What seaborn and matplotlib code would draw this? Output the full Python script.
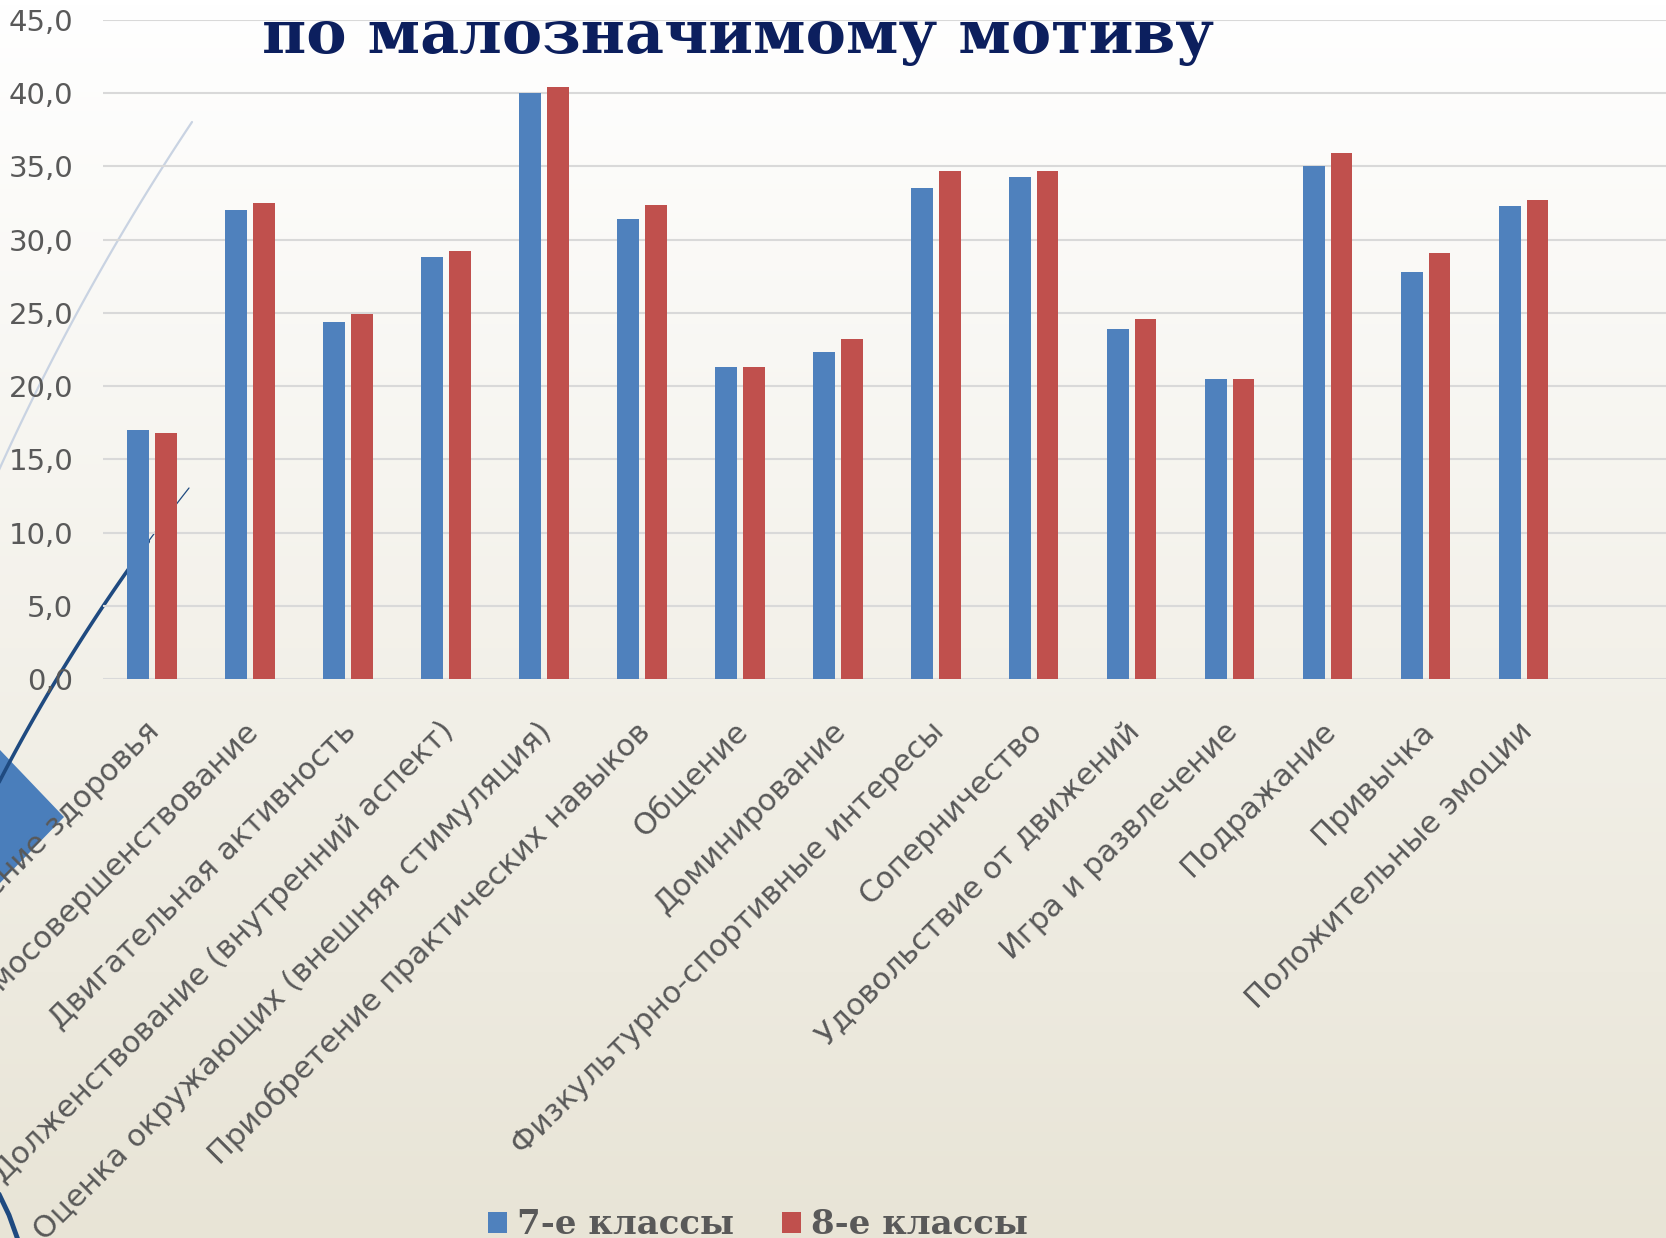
import numpy as np
import pandas as pd
import matplotlib
matplotlib.use('Agg')
import matplotlib.pyplot as plt
import matplotlib.transforms as mtransforms
from matplotlib.patches import Polygon, Rectangle
import seaborn as sns

## data
motives = ['Укрепление здоровья', 'Самосовершенствование', 'Двигательная активность',
           'Долженствование (внутренний аспект)', 'Оценка окружающих (внешняя стимуляция)',
           'Приобретение практических навыков', 'Общение', 'Доминирование',
           'Физкультурно-спортивные интересы', 'Соперничество', 'Удовольствие от движений',
           'Игра и развлечение', 'Подражание', 'Привычка', 'Положительные эмоции']
grade7 = [17.0, 32.0, 24.4, 28.8, 40.0, 31.4, 21.3, 22.3, 33.5, 34.3, 23.9, 20.5, 35.0, 27.8, 32.3]
grade8 = [16.8, 32.5, 24.9, 29.2, 40.4, 32.4, 21.3, 23.2, 34.7, 34.7, 24.6, 20.5, 35.9, 29.1, 32.7]
series_names = ['7-е классы', '8-е классы']
yticks = [0, 5, 10, 15, 20, 25, 30, 35, 40, 45]

df = pd.DataFrame({
    'motive': motives * 2,
    'value': grade7 + grade8,
    'grade': [series_names[0]] * len(motives) + [series_names[1]] * len(motives),
})

sns.set_theme(style='white')
plt.rcParams['font.family'] = ['DejaVu Sans']

W, H = 1666, 1238
fig = plt.figure(figsize=(W / 100, H / 100), dpi=100)

## slide background + decorations (pixel coords)
bg = fig.add_axes([0, 0, 1, 1], zorder=0)
top = np.array([1.0, 1.0, 1.0])
bottom = np.array([0.91, 0.895, 0.84])
t = np.linspace(0, 1, 256)[:, None]
grad = (top * (1 - t) + bottom * t)[:, None, :]
bg.imshow(grad, aspect='auto', extent=[0, W, H, 0])
bg.set_xlim(0, W)
bg.set_ylim(H, 0)
bg.axis('off')


def bezier(p0, c, p2, n=60):
    s = np.linspace(0, 1, n)[:, None]
    return (1 - s) ** 2 * np.array(p0) + 2 * (1 - s) * s * np.array(c) + s ** 2 * np.array(p2)


light = bezier((192, 122), (76, 296), (-10, 490))
bg.plot(light[:, 0], light[:, 1], color='#c9d3e2', lw=1.6)
dark = bezier((189, 488), (77, 630), (-5, 790))
bg.plot(dark[:12, 0], dark[:12, 1], color='#1f4a80', lw=0.9)
bg.plot(dark[11:, 0], dark[11:, 1], color='#1f4a80', lw=2.6)
bg.plot([-2, 9, 18], [1192, 1215, 1240], color='#1f4a80', lw=3.5)
bg.add_patch(Polygon([(-66, 816), (0, 750), (64, 817), (0, 883)], closed=True,
                     facecolor='#4a7ebb', edgecolor='none'))

## chart
ax = fig.add_axes([103 / W, 1 - 679 / H, 1 - 103 / W, (679 - 20) / H], zorder=1)
ax.patch.set_alpha(0)
sns.barplot(data=df, x='motive', y='value', hue='grade', palette=['#4F81BD', '#C0504D'],
            width=0.56, gap=0.21, saturation=1, linewidth=0, legend=False, ax=ax)

ax.set_ylim(0, 45)
ax.set_xlim(-0.5, 15.45)
ax.set_yticks(yticks)
ax.set_yticklabels([f'{v:.1f}'.replace('.', ',') for v in yticks])
ax.yaxis.grid(True, color='#d9d9d9', lw=1.5)
ax.set_axisbelow(True)
for s in ax.spines.values():
    s.set_visible(False)
ax.set_xlabel('')
ax.set_ylabel('')
ax.tick_params(axis='y', length=0, pad=21.5, labelsize=21, labelcolor='#595959')
ax.tick_params(axis='x', length=0, pad=27, labelsize=22, labelcolor='#595959')
shift = mtransforms.ScaledTranslation(-7 / 100, 0, fig.dpi_scale_trans)
for lab in ax.get_xticklabels():
    lab.set_rotation(45)
    lab.set_ha('right')
    lab.set_va('top')
    lab.set_rotation_mode('anchor')
    lab.set_transform(lab.get_transform() + shift)

## title (partly visible slide heading)
fig.text(262 / W, 1 - 53 / H, 'по малозначимому мотиву', ha='left', va='baseline',
         family='DejaVu Serif', weight='bold', size=43.5, color='#0c1f5e', zorder=3)

## legend
handles = [Rectangle((0, 0), 1, 1, facecolor=c, edgecolor='none') for c in ['#4F81BD', '#C0504D']]
fig.legend(handles, series_names, loc='center', bbox_to_anchor=(758 / W, 1 - 1225 / H),
           ncol=2, frameon=False, prop=dict(family='DejaVu Serif', weight='bold', size=24.5),
           labelcolor='#595959', handlelength=0.55, handleheight=0.55, handletextpad=0.3,
           columnspacing=1.4)

fig.savefig('out.png', dpi=100)
